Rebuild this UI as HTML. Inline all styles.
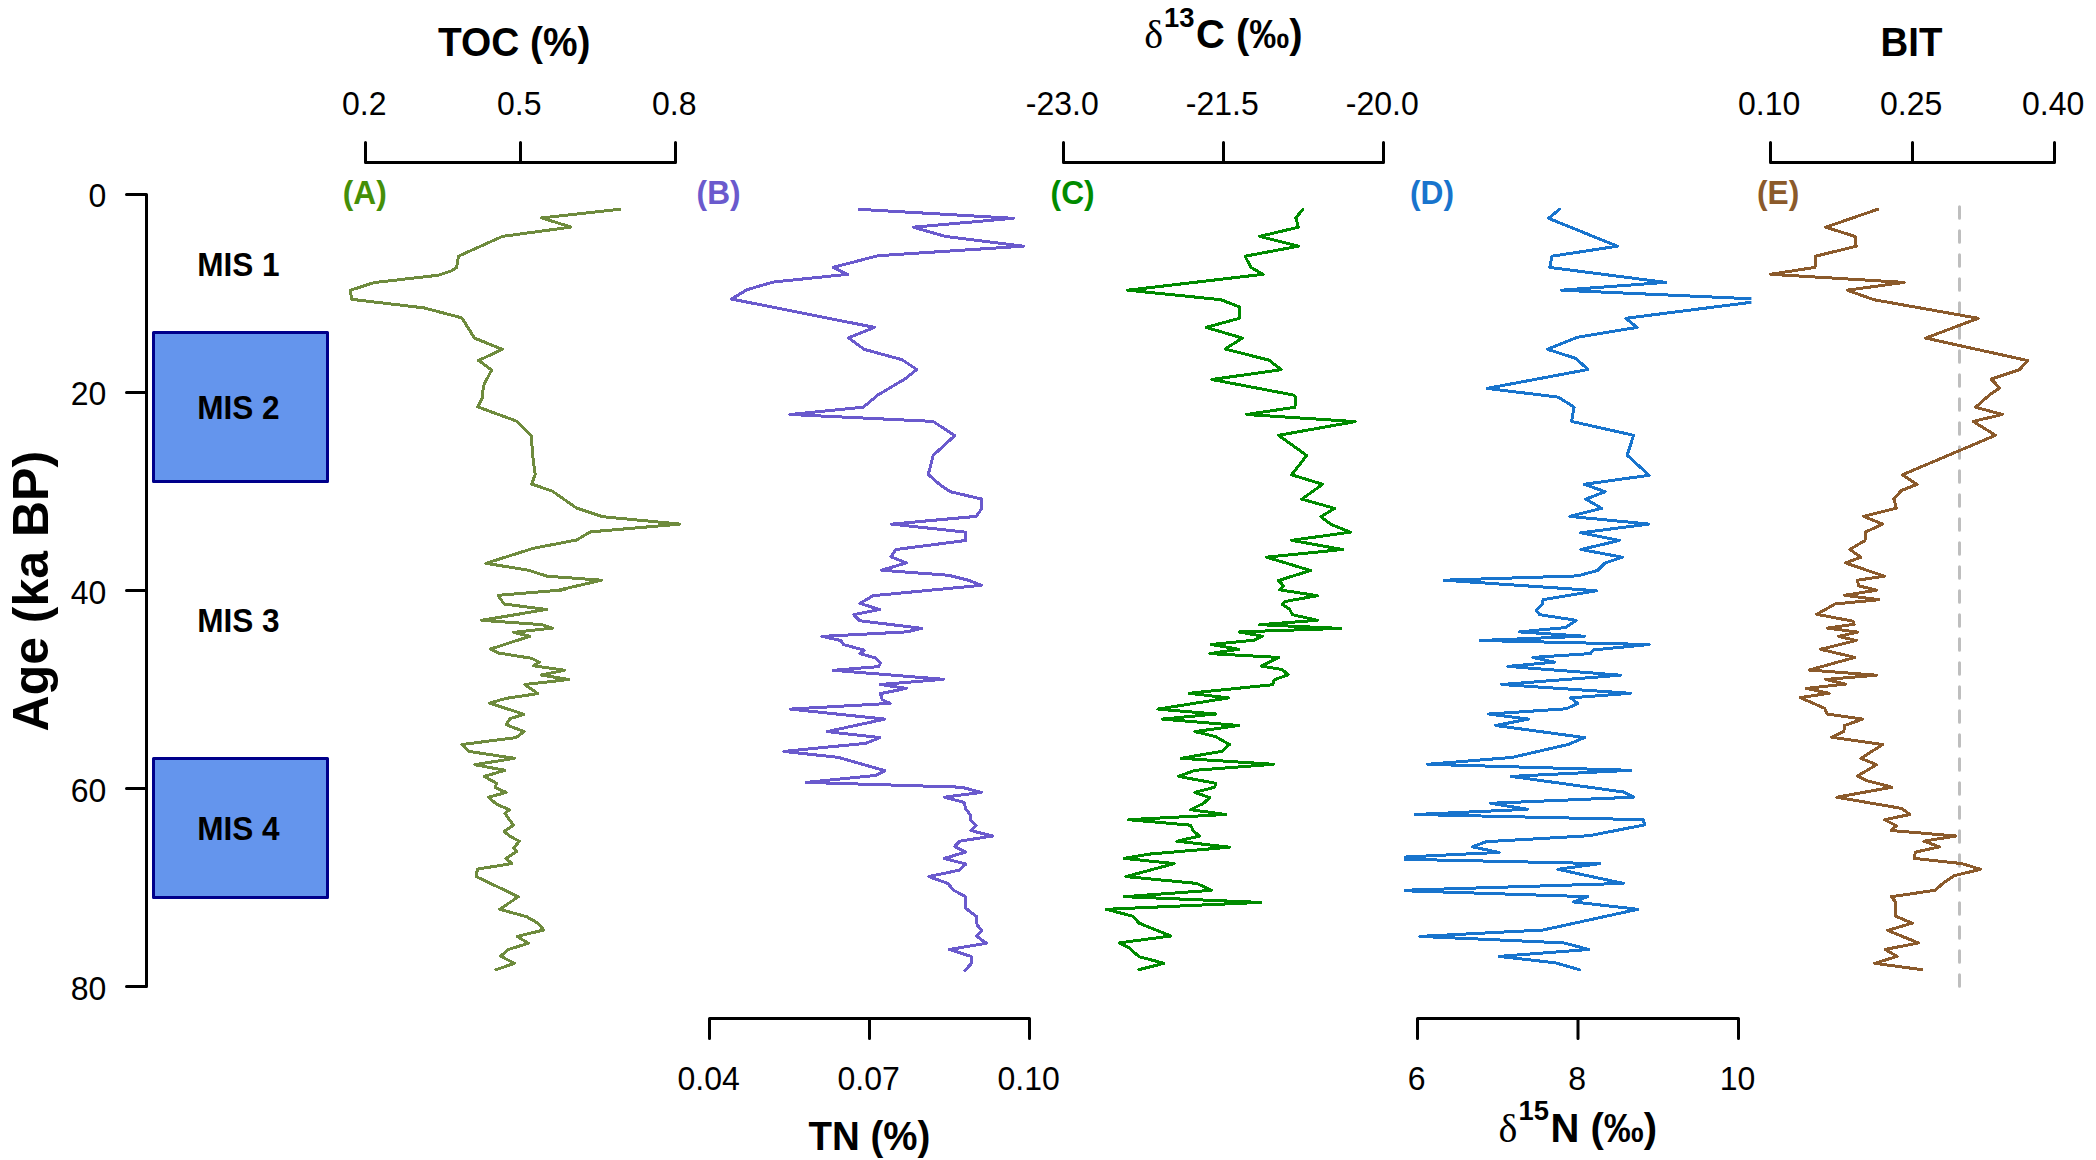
<!DOCTYPE html>
<html lang="en"><head><meta charset="utf-8"><title>Proxy records vs. age</title>
<style>
html,body{margin:0;padding:0;background:#fff;}
body{width:2096px;height:1160px;overflow:hidden;}
svg{display:block;}
text{font-family:"Liberation Sans",sans-serif;fill:#000;}
.b{font-weight:bold;}
.sym{font-family:"Liberation Serif","DejaVu Serif",serif;font-weight:normal;}
.ax{stroke:#000;stroke-width:3;fill:none;stroke-linecap:round;stroke-linejoin:round;}
.cv{shape-rendering:crispEdges;fill:none;stroke-width:3;stroke-linejoin:round;stroke-linecap:round;}
</style></head><body>
<svg width="2096" height="1160" viewBox="0 0 2096 1160">
<rect width="2096" height="1160" fill="#fff"/>
<defs>
<clipPath id="cA"><rect x="330" y="160" width="360.0" height="860"/></clipPath>
<clipPath id="cB"><rect x="696.6" y="160" width="345.6" height="860"/></clipPath>
<clipPath id="cC"><rect x="1050.4" y="160" width="345.7" height="860"/></clipPath>
<clipPath id="cD"><rect x="1404.0" y="160" width="347.4" height="860"/></clipPath>
<clipPath id="cE"><rect x="1759.2" y="160" width="307.1" height="860"/></clipPath>
</defs>
<path class="ax" d="M146.5 194.5V986.5M146.5 194.5H126.5M146.5 392.5H126.5M146.5 590.5H126.5M146.5 788.5H126.5M146.5 986.5H126.5"/>
<text transform="translate(106.4,206.9) scale(0.97,1)" text-anchor="end" style="font-size:33px;">0</text>
<text transform="translate(106.4,405.2) scale(0.97,1)" text-anchor="end" style="font-size:33px;">20</text>
<text transform="translate(106.4,603.5) scale(0.97,1)" text-anchor="end" style="font-size:33px;">40</text>
<text transform="translate(106.4,801.8) scale(0.97,1)" text-anchor="end" style="font-size:33px;">60</text>
<text transform="translate(106.4,1000.1) scale(0.97,1)" text-anchor="end" style="font-size:33px;">80</text>
<text class="b" transform="translate(47.8,591.2) rotate(-90) scale(0.99,1)" text-anchor="middle" style="font-size:50.5px;">Age (ka BP)</text>
<rect x="153.5" y="332.5" width="174" height="149.0" fill="#6495ED" stroke="#00008B" stroke-width="3" stroke-linejoin="round"/>
<rect x="153.5" y="758.5" width="174" height="139.0" fill="#6495ED" stroke="#00008B" stroke-width="3" stroke-linejoin="round"/>
<text class="b" transform="translate(238.4,275.8) scale(0.957,1)" text-anchor="middle" style="font-size:33px;">MIS 1</text>
<text class="b" transform="translate(238.4,419.4) scale(0.957,1)" text-anchor="middle" style="font-size:33px;">MIS 2</text>
<text class="b" transform="translate(238.4,632.2) scale(0.957,1)" text-anchor="middle" style="font-size:33px;">MIS 3</text>
<text class="b" transform="translate(238.4,840.1) scale(0.957,1)" text-anchor="middle" style="font-size:33px;">MIS 4</text>
<path class="ax" d="M365.5 142.6V162.5H675.5V142.6M520.5 162.5V142.6"/>
<text transform="translate(364.2,114.7) scale(0.97,1)" text-anchor="middle" style="font-size:33px;">0.2</text>
<text transform="translate(519.2,114.7) scale(0.97,1)" text-anchor="middle" style="font-size:33px;">0.5</text>
<text transform="translate(674.2,114.7) scale(0.97,1)" text-anchor="middle" style="font-size:33px;">0.8</text>
<path class="ax" d="M1063.5 142.6V162.5H1383.5V142.6M1223.5 162.5V142.6"/>
<text transform="translate(1062.2,114.7) scale(0.97,1)" text-anchor="middle" style="font-size:33px;">-23.0</text>
<text transform="translate(1222.2,114.7) scale(0.97,1)" text-anchor="middle" style="font-size:33px;">-21.5</text>
<text transform="translate(1382.2,114.7) scale(0.97,1)" text-anchor="middle" style="font-size:33px;">-20.0</text>
<path class="ax" d="M1770.5 142.6V162.5H2054.5V142.6M1912.5 162.5V142.6"/>
<text transform="translate(1769.2,114.7) scale(0.97,1)" text-anchor="middle" style="font-size:33px;">0.10</text>
<text transform="translate(1911.2,114.7) scale(0.97,1)" text-anchor="middle" style="font-size:33px;">0.25</text>
<text transform="translate(2053.2,114.7) scale(0.97,1)" text-anchor="middle" style="font-size:33px;">0.40</text>
<path class="ax" d="M709.5 1038.4V1018.5H1029.5V1038.4M869.5 1018.5V1038.4"/>
<text transform="translate(708.6,1089.6) scale(0.97,1)" text-anchor="middle" style="font-size:33px;">0.04</text>
<text transform="translate(868.6,1089.6) scale(0.97,1)" text-anchor="middle" style="font-size:33px;">0.07</text>
<text transform="translate(1028.6,1089.6) scale(0.97,1)" text-anchor="middle" style="font-size:33px;">0.10</text>
<path class="ax" d="M1417.5 1038.4V1018.5H1738.5V1038.4M1578.0 1018.5V1038.4"/>
<text transform="translate(1416.6,1089.6) scale(0.97,1)" text-anchor="middle" style="font-size:33px;">6</text>
<text transform="translate(1577.1,1089.6) scale(0.97,1)" text-anchor="middle" style="font-size:33px;">8</text>
<text transform="translate(1737.6,1089.6) scale(0.97,1)" text-anchor="middle" style="font-size:33px;">10</text>
<text class="b" transform="translate(514.2,56.0) scale(0.972,1)" text-anchor="middle" style="font-size:40px;">TOC (%)</text>
<text class="b" transform="translate(1911.5,56.2) scale(0.96,1)" text-anchor="middle" style="font-size:40px;">BIT</text>
<text class="b" transform="translate(869.4,1149.8) scale(0.962,1)" text-anchor="middle" style="font-size:40px;">TN (%)</text>
<text class="b" transform="translate(1144.2,48.0)" style="font-size:40px"><tspan class="sym">δ</tspan><tspan dx="1" dy="-21.3" style="font-size:27.4px">13</tspan><tspan dx="1.5" dy="21.3">C (‰)</tspan></text>
<text class="b" transform="translate(1498.6,1141.6)" style="font-size:40px"><tspan class="sym">δ</tspan><tspan dx="1" dy="-21.3" style="font-size:27.4px">15</tspan><tspan dx="1.5" dy="21.3">N (‰)</tspan></text>
<text class="b" transform="translate(342.8,203.6) scale(0.96,1)" text-anchor="start" style="font-size:33px;fill:#458F08;">(A)</text>
<text class="b" transform="translate(696.6,203.6) scale(0.96,1)" text-anchor="start" style="font-size:33px;fill:#6A5ACD;">(B)</text>
<text class="b" transform="translate(1050.6,203.6) scale(0.96,1)" text-anchor="start" style="font-size:33px;fill:#008B00;">(C)</text>
<text class="b" transform="translate(1410.0,203.6) scale(0.96,1)" text-anchor="start" style="font-size:33px;fill:#1874CD;">(D)</text>
<text class="b" transform="translate(1757.0,203.6) scale(0.96,1)" text-anchor="start" style="font-size:33px;fill:#8B5A2B;">(E)</text>
<path d="M1959.5 206.8V988" stroke="#BEBEBE" stroke-width="3" stroke-dasharray="11.5 12.5" stroke-linecap="round" fill="none"/>
<g clip-path="url(#cA)"><path class="cv" stroke="#6E8B3D" d="M619.7,209.3 541.7,217.9 571,227.1 502.4,236.4 458.4,256.2 456.7,267.4 450.7,271.2 438.6,275.2 374,282.6 350.3,290.3 351.6,299.3 424,307.9 461.9,317.9 474.5,338.1 502.4,349.3 478.6,360.5 491.6,370 484,384.7 482.1,395 482.2,397.8 477.9,406.9 516.2,421 531.2,435.7 533.1,459 535.2,474.5 531.7,484 552.4,491.2 576.6,508.1 602.4,516.7 680,524.1 590.3,531.9 576.6,540 533.4,548.3 486,563.3 528.3,570.2 547.2,576.2 601.6,580.2 559.3,590 564.5,589.8 498.1,595.3 504.1,604 546.4,609.5 481.7,620.3 542.1,624.7 552.4,628.1 513.6,632.4 530,636.2 490.3,649.1 499,653.1 531.7,658.3 539.5,662.2 533.4,665.7 564.5,670.3 541.2,675 568.8,679.5 524.8,684.5 537.8,693.6 505.9,698.4 489.5,703.1 524,714.3 510.2,718.6 506.2,724.7 524,731.6 516.2,737.6 461.9,744.5 468.8,751.4 514.5,758.3 474.8,764.7 505,770.3 484.3,776.4 496.4,783.3 495.5,787.8 506.2,792.4 488.6,797.2 496.4,804.1 509.3,809.7 505,813.6 513.6,825.2 504.1,831.2 509.3,836 519.3,841.2 513.6,848.1 516.6,851.6 505.9,858.4 511.9,863.6 477.4,869.1 476.2,876.6 518.3,896.7 499.8,909.3 526.6,916.7 537.8,923.1 543.8,930 517.1,936.4 528.3,943.3 508.4,949.5 500.7,956.2 514.5,963.3 496,969.7"/></g>
<g clip-path="url(#cB)"><path class="cv" stroke="#6A5ACD" d="M859,209.3 1013.3,218.3 913.3,227.2 945.2,236.4 1023.6,246.2 877.9,255.7 833.1,267.4 847.8,274.3 772.8,282.1 746.9,289.8 731.4,299 874.5,327.4 848.6,337.8 864.1,349.3 902.1,359.7 916.7,369.5 905.5,378.6 877.9,395 874.5,397.8 863.3,407.2 790,414.5 933.1,421.4 954.7,435.7 933.1,455.5 928.3,474.5 940,484.8 950.3,491.7 981.4,499 981.4,509 976.2,516.4 891.7,524.1 965.9,532.2 965.5,540.5 896,549.5 890.9,556.7 906.4,562.9 881.4,570.2 948.6,575.3 969.3,580.5 981.4,585.3 873.1,595.7 859.8,603.4 879.7,609.5 853.8,614.7 859.8,620.7 921.9,628.4 906.4,631.9 821.9,636.4 840.9,640.5 843.4,644.5 864.1,650.2 859.8,653.6 875.3,657.9 880.5,663.1 878.8,666.6 833.1,670.3 943.4,679.3 880.5,684.5 906.4,688.4 880.5,693.6 882.2,699.7 890,703.4 790,709.1 884.8,719.1 827.1,731.6 879.7,737.6 865.9,743.3 784,751.4 838.3,757.4 884.8,770.7 875.3,775.5 806.4,782.4 961.6,787.2 981.4,792.4 944.3,797.2 964.1,802.4 965.9,809.3 970.7,815.3 971,820.5 976.2,825.7 970.7,830.5 992.6,836 959.8,841.2 954.7,846.4 965.5,852.1 944.3,858.4 965.9,864.1 959,870.2 928.8,876.6 947.8,883.4 953.8,890.3 965.9,896.9 965.9,908.4 976.2,916.2 977.1,924.8 981.7,930.9 976.2,936 986.6,943.3 949.5,949.5 971,956.4 971,964.1 965,970.2"/></g>
<g clip-path="url(#cC)"><path class="cv" stroke="#008B00" d="M1302.8,209.3 1295.9,217.9 1298.4,227.2 1259.7,236.4 1298.4,246.2 1245,256.2 1251,267.4 1263.1,274.3 1127.8,290.2 1220.9,299.7 1239.8,307.1 1239.5,318.3 1206.2,327.4 1242.4,338.1 1225.2,349 1269.1,360.2 1281.2,369.7 1211.9,379.5 1293.3,395 1295.3,396.9 1295,407.2 1246.7,414.5 1355.3,421.6 1278.6,435.3 1306.7,455.5 1291.6,474.8 1322.6,484.3 1301.9,499.1 1334.7,508.4 1320.9,516.7 1331.2,524.5 1350.2,532.2 1291.6,540.3 1342.4,549.5 1266.6,557.2 1310.5,570.5 1278.6,580.5 1283.8,586 1279.5,589.8 1317.4,595.7 1285.5,601.4 1282.1,604.3 1289.8,609.5 1292.4,614.7 1317.4,620.3 1259.7,624.7 1340.7,628.4 1239,631.9 1262.2,636.2 1254.5,640.2 1211.4,644.5 1239,649.3 1209.7,653.6 1278.6,657.4 1261.4,666 1282.1,669.5 1288.1,674.7 1274.3,679.8 1272.6,684.7 1189,693.3 1228.6,697.9 1157.9,709.1 1215.7,714 1162.2,719.1 1239,725.5 1195,731.6 1215.7,736.7 1229.5,744.5 1221.7,751.4 1181.2,758.3 1273.4,764.3 1195,770.3 1178.6,776.4 1215.7,783.3 1214.8,787.2 1195,792.4 1209.7,797.6 1203.6,803.3 1190.7,809.7 1226,814.5 1128.6,819.7 1190.7,825.2 1193.3,830.9 1199.8,836 1176.9,841.2 1229.5,847.2 1149.3,854.1 1124.3,858.4 1174.3,863.6 1126,876.6 1196.7,883.4 1211.4,890.3 1124.3,896.7 1260.5,902.4 1106.2,909.3 1132.9,916.2 1139,923.1 1170.9,936 1119.1,942.9 1129.5,948.1 1139,956.7 1164,963.3 1139,969.7"/></g>
<g clip-path="url(#cD)"><path class="cv" stroke="#1874CD" d="M1559.5,209.3 1548.6,218.3 1617.2,246.2 1552.1,256.2 1549.7,267.4 1665.5,282.4 1561.2,290.2 1771.4,299.7 1625.9,318.3 1637.1,327.4 1577.6,337.2 1547.4,349.3 1575.9,358.4 1587.9,369.5 1487.1,388.4 1558.6,397.2 1574.1,407.2 1571.6,421.4 1633.6,435.3 1627.2,455.2 1649.1,475.3 1584.1,484.3 1605.2,491.7 1585.9,499.1 1601.7,508.4 1569.8,516.4 1649.1,524.1 1580.7,532.8 1619.3,540.5 1581,549.5 1622.4,557.2 1605.2,562.9 1597.4,570.5 1577.6,575.9 1444,580.2 1596.6,590.7 1543.1,599.7 1542.2,604 1536.2,610 1539.7,614.7 1576.2,620.3 1565.5,627.6 1519,631.9 1584.5,636.2 1480.2,640.5 1649.1,644.5 1593.1,650 1590.5,653.6 1532.8,657.4 1554.3,662.2 1507.8,666.4 1620.7,675.2 1501.7,684.5 1630.7,693.3 1570.7,697.9 1577.6,703.4 1566.4,708.8 1488.8,714 1528.4,719.1 1495.7,725.5 1584.5,737.6 1568.1,744.5 1512.1,757.4 1427.6,764.3 1630.7,770.3 1511.2,776.4 1624.1,792.1 1633.6,797.2 1490.5,803.3 1527.6,809.3 1415.5,814.5 1643.1,819.7 1644.8,824.8 1589.7,835.7 1486.2,841.7 1472.4,846.9 1499.1,852.4 1373.3,858.6 1600,863.6 1557.8,869.3 1623.3,883.4 1396.6,890.5 1587.9,896.7 1573.3,901.9 1637.9,909.3 1543.1,930 1419.8,936.4 1563.8,942.9 1588.8,949.5 1499.1,956.4 1555.2,962.8 1579.3,969.7"/></g>
<g clip-path="url(#cE)"><path class="cv" stroke="#8B5A2B" d="M1877.7,209.3 1825.7,227.2 1855,236.4 1856.2,246.2 1815.7,256.2 1815,267.4 1770.5,274.3 1904.1,282.4 1847.2,290.2 1873.9,299.7 1978.2,318.3 1925.7,338.1 2027.4,360.5 2019.6,369.7 1991.2,379.1 1999.8,388.1 1989.4,395 1975.7,407.2 2002.4,414.5 1973.1,421.4 1995.5,435.3 1902.4,474.8 1917,484.3 1901.5,490.5 1893.8,498.6 1896.3,508.1 1863.6,516.4 1882.6,524.1 1865.3,532.2 1865,540.5 1849.8,549.5 1861,557.2 1845.5,562.9 1884.3,576.2 1857.6,580.2 1858.4,585.7 1876.5,590.2 1844.6,595.3 1878.8,599.7 1835.1,604 1829.1,607.4 1816.7,614.3 1853.2,621.2 1854.1,624.3 1827.4,628.1 1857.6,632.1 1838.6,636.4 1856.3,640.5 1820.5,649.3 1855,657.4 1809.3,670 1876.5,675.2 1825.7,679.5 1845.5,684.1 1806.3,688.4 1829.1,693.3 1800.1,697.6 1824.8,708.3 1827,714 1862.7,719.1 1844.6,725.5 1843.8,731.6 1831.7,737.2 1882.6,744.5 1861,758.3 1876.5,764.7 1857.6,776 1867,780.7 1892,787.2 1836.9,797.2 1901.5,808.4 1909.8,814.5 1884.6,819.7 1896.3,825.7 1891.2,830.5 1955.8,836 1923.9,841.2 1939.4,846.9 1915.3,852.1 1914.4,858.4 1961.9,863.6 1980.5,869.3 1954.1,875.7 1942.9,883.4 1935.1,890.3 1891.2,896.7 1896,902.4 1895.5,916.2 1912.2,923.1 1887.7,930.5 1918.4,942.9 1885.1,949.5 1897.2,956.4 1874.8,963.3 1921.9,969.7"/></g>
</svg></body></html>
